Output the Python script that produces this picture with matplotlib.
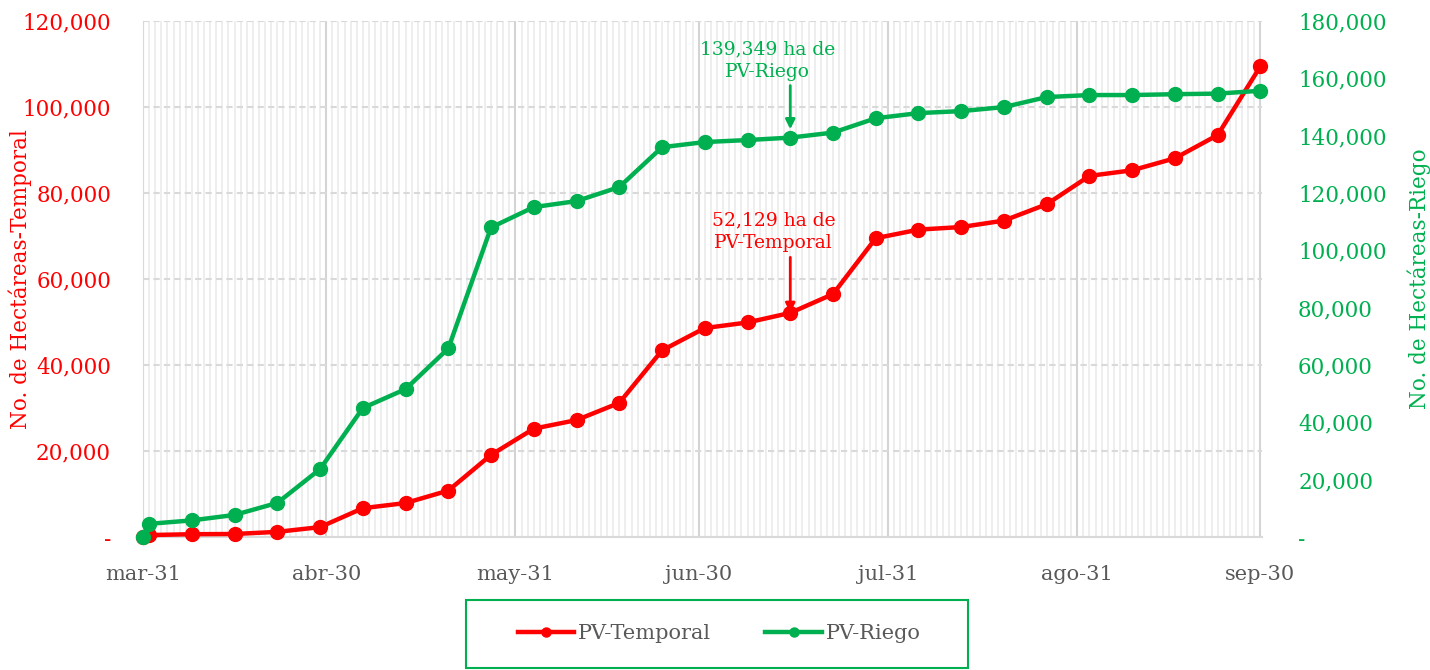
import matplotlib
matplotlib.use("Agg")
import matplotlib.pyplot as plt
import matplotlib.dates as mdates
from matplotlib.patches import Rectangle
import pandas as pd

dates = pd.to_datetime([
    "2020-03-31", "2020-04-01", "2020-04-08", "2020-04-15", "2020-04-22", "2020-04-29",
    "2020-05-06", "2020-05-13", "2020-05-20", "2020-05-27", "2020-06-03", "2020-06-10",
    "2020-06-17", "2020-06-24", "2020-07-01", "2020-07-08", "2020-07-15", "2020-07-22",
    "2020-07-29", "2020-08-05", "2020-08-12", "2020-08-19", "2020-08-26", "2020-09-02",
    "2020-09-09", "2020-09-16", "2020-09-23", "2020-09-30",
])
temporal = [0, 450, 650, 700, 1200, 2300, 6700, 7900, 10800, 19100, 25200, 27200, 31200,
            43400, 48600, 49900, 52129, 56500, 69500, 71500, 72100, 73600, 77400, 84000,
            85300, 88100, 93500, 109500]
riego = [0, 4600, 5800, 7700, 11900, 23700, 45000, 51600, 65800, 108000, 115100, 117200,
         122100, 136000, 137800, 138500, 139349, 141100, 146100, 147900, 148600, 150000,
         153500, 154200, 154200, 154500, 154700, 155700]

month_ticks = pd.to_datetime(["2020-03-31", "2020-04-30", "2020-05-31", "2020-06-30",
                              "2020-07-31", "2020-08-31", "2020-09-30"])
month_labels = ["mar-31", "abr-30", "may-31", "jun-30", "jul-31", "ago-31", "sep-30"]
left_ticks = [0, 20000, 40000, 60000, 80000, 100000, 120000]
right_ticks = [0, 20000, 40000, 60000, 80000, 100000, 120000, 140000, 160000, 180000]

RED = "#FF0000"
GREEN = "#00B050"
GRAY = "#595959"

plt.rcParams["font.family"] = ["DejaVu Serif"]

fig = plt.figure(figsize=(14.3, 6.7), dpi=100)
ax = fig.add_axes([0.100, 0.1985, 0.7825, 0.770])
ax2 = ax.twinx()

ax.plot(dates, temporal, color=RED, lw=3.2, marker="o", ms=10, clip_on=False, zorder=3,
        label="PV-Temporal")
ax2.plot(dates, riego, color=GREEN, lw=3.2, marker="o", ms=10, clip_on=False, zorder=3,
         label="PV-Riego")

ax.set_xlim(month_ticks[0], month_ticks[-1] + pd.Timedelta(hours=6))
ax.set_ylim(0, 120000)
ax2.set_ylim(0, 180000)

ax.set_xticks(month_ticks)
ax.set_xticklabels(month_labels)
ax.xaxis.set_minor_locator(mdates.DayLocator())
ax.set_yticks(left_ticks)
ax.set_yticklabels(["-"] + [f"{v:,}" for v in left_ticks[1:]])
ax2.set_yticks(right_ticks)
ax2.set_yticklabels(["-"] + [f"{v:,}" for v in right_ticks[1:]])

ax.tick_params(axis="x", which="both", length=0, pad=20, labelsize=15, labelcolor=GRAY)
ax.tick_params(axis="y", length=0, pad=23, labelsize=15.5, labelcolor=RED)
ax2.tick_params(axis="y", length=0, pad=26, labelsize=15.5, labelcolor=GREEN)

ax.grid(axis="x", which="minor", color="#ebebeb", lw=1.2)
ax.grid(axis="x", which="major", color="#d4d4d4", lw=1.5)
ax.grid(axis="y", which="major", color="#d9d9d9", lw=1.5, ls=(0, (3, 2)))
ax.set_axisbelow(True)

for a in (ax, ax2):
    for s in a.spines.values():
        s.set_visible(False)
ax.spines["left"].set_visible(True)
ax.spines["left"].set_color("#d9d9d9")
ax.spines["bottom"].set_visible(True)
ax.spines["bottom"].set_color("#d9d9d9")
ax.spines["bottom"].set_linewidth(1.5)

ax.set_ylabel("No. de Hectáreas-Temporal", color=RED, fontsize=15.5)
ax2.set_ylabel("No. de Hectáreas-Riego", color=GREEN, fontsize=15.5)
ax.yaxis.set_label_coords(-0.099, 0.5)
ax2.yaxis.set_label_coords(1.130, 0.5)

# annotations: text block and a separate vertical arrow
ax.annotate("52,129 ha de\nPV-Temporal", xy=(dates[16], temporal[16]), xytext=(-12, 44),
            textcoords="offset points", ha="center", va="bottom", color=RED, fontsize=13.5,
            linespacing=1.3)
ax.annotate("", xy=(dates[16], temporal[16]), xytext=(0, 40), textcoords="offset points",
            arrowprops=dict(arrowstyle="-|>", color=RED, lw=2, mutation_scale=14,
                            shrinkA=0, shrinkB=0))
ax2.annotate("139,349 ha de\nPV-Riego", xy=(dates[16], riego[16]), xytext=(-16.5, 41),
             textcoords="offset points", ha="center", va="bottom", color=GREEN, fontsize=13.5,
             linespacing=1.3)
ax2.annotate("", xy=(dates[16], riego[16]), xytext=(0, 37.5), textcoords="offset points",
             arrowprops=dict(arrowstyle="-|>", color=GREEN, lw=2, mutation_scale=14,
                             shrinkA=0, shrinkB=6))

fig.patches.append(Rectangle((466 / 1430, 2 / 670), 502 / 1430, 68 / 670,
                             transform=fig.transFigure, fill=False, edgecolor=GREEN, lw=1.5))
handles = ax.get_lines()[:1] + ax2.get_lines()[:1]
leg = fig.legend(handles, ["PV-Temporal", "PV-Riego"], loc="center",
                 bbox_to_anchor=(0.503, 0.054), ncol=2, frameon=False, fontsize=15,
                 handlelength=2.7, handletextpad=0.2, columnspacing=2.6, markerscale=0.65)
for t in leg.get_texts():
    t.set_color(GRAY)

fig.savefig("out.png", dpi=100)
